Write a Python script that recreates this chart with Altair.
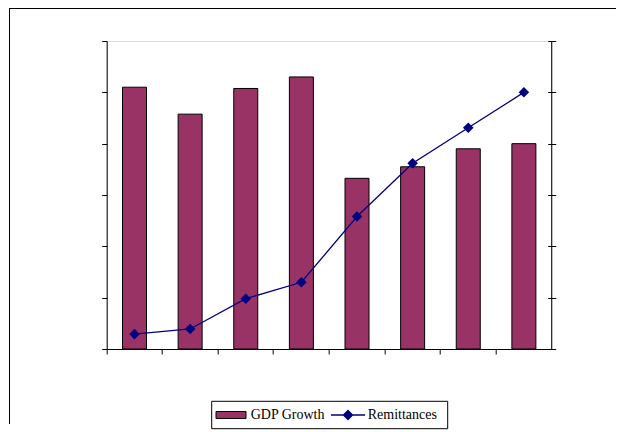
import altair as alt
import pandas as pd

years = ["2001", "2002", "2003", "2004", "2005", "2006", "2007", "2008"]
gdp_growth = [10.2, 9.15, 10.15, 10.6, 6.65, 7.1, 7.8, 8.0]
remittances = [145, 195, 490, 650, 1290, 1810, 2155, 2500]
left_ticks = [0, 2, 4, 6, 8, 10, 12]
right_ticks = [0, 500, 1000, 1500, 2000, 2500, 3000]
series_names = ["GDP Growth", "Remittances"]

df = pd.DataFrame({"year": years, "gdp": gdp_growth, "rem": remittances,
                   "s1": series_names[0], "s2": series_names[1]})

FONT = "Liberation Serif"
W, H = 445, 308

x_enc = alt.X(
    "year:N",
    scale=alt.Scale(paddingInner=0, paddingOuter=0),
    axis=alt.Axis(labels=False, title=None, ticks=True, tickSize=5, bandPosition=0,
                  domainColor="black", tickColor="black", grid=False, domainWidth=1),
)

one = alt.Data(values=[{"k": 1}])

frame_top = alt.Chart(one).mark_rect(fill="black", strokeWidth=0).encode(
    x=alt.value(-97.7), x2=alt.value(509.3), y=alt.value(-33), y2=alt.value(-32))
frame_left = alt.Chart(one).mark_rect(fill="black", strokeWidth=0).encode(
    x=alt.value(-97.7), x2=alt.value(-96.7), y=alt.value(-33), y2=alt.value(383))

bars = alt.Chart(df).mark_bar(width=24, stroke="black", strokeWidth=1).encode(
    x=x_enc,
    y=alt.Y("gdp:Q", scale=alt.Scale(domain=[0, 12], nice=False),
            axis=alt.Axis(orient="left", values=left_ticks, labels=False, title=None,
                          tickSize=5, domainColor="black", tickColor="black", grid=False)),
    fill=alt.Fill("s1:N",
                  scale=alt.Scale(domain=[series_names[0]], range=["#993366"]),
                  legend=alt.Legend(orient="none", legendX=108.8, legendY=358.5, title=None,
                                    symbolType="M-1,-0.233H1V0.233H-1Z", symbolSize=900,
                                    symbolStrokeColor="black", symbolStrokeWidth=1,
                                    labelFont=FONT, labelFontSize=14, labelColor="black",
                                    labelOffset=4.2, padding=0)),
)

line = alt.Chart(df).mark_line(
    strokeWidth=1.3,
    point=alt.OverlayMarkDef(shape="diamond", size=60, filled=True, color="#000080"),
).encode(
    x=x_enc,
    y=alt.Y("rem:Q", scale=alt.Scale(domain=[0, 3000], nice=False),
            axis=alt.Axis(orient="right", values=right_ticks, labels=False, title=None,
                          tickSize=8, offset=-4, domain=False,
                          tickColor="black", grid=False)),
    stroke=alt.Stroke("s2:N",
                      scale=alt.Scale(domain=[series_names[1]], range=["#000080"]),
                      legend=alt.Legend(orient="none", legendX=223.3, legendY=356, title=None,
                                        symbolType="M-1,0H1M0,-0.265L0.265,0L0,0.265L-0.265,0Z",
                                        symbolSize=1156, symbolFillColor="#000080",
                                        symbolStrokeWidth=1.3,
                                        labelFont=FONT, labelFontSize=14, labelColor="black",
                                        labelOffset=1.7, padding=0)),
)

right_domain = alt.Chart(one).mark_rule(color="black", strokeWidth=1).encode(
    x=alt.value(W), y=alt.value(0), y2=alt.value(H))

legend_box = alt.Chart(one).mark_rect(
    fill="white", stroke="black", strokeWidth=1
).encode(x=alt.value(105), x2=alt.value(341), y=alt.value(360.3), y2=alt.value(387.7))

chart = alt.layer(frame_top, frame_left, bars, line, right_domain, legend_box).resolve_scale(
    y="independent"
).properties(
    width=W,
    height=H,
    autosize=alt.AutoSizeParams(type="none"),
    padding={"left": 98.7, "top": 33, "right": 64.3, "bottom": 83},
).configure_view(stroke=None).configure(background="white")

chart.save("out.html", embed_options={"renderer": "svg", "actions": False})
